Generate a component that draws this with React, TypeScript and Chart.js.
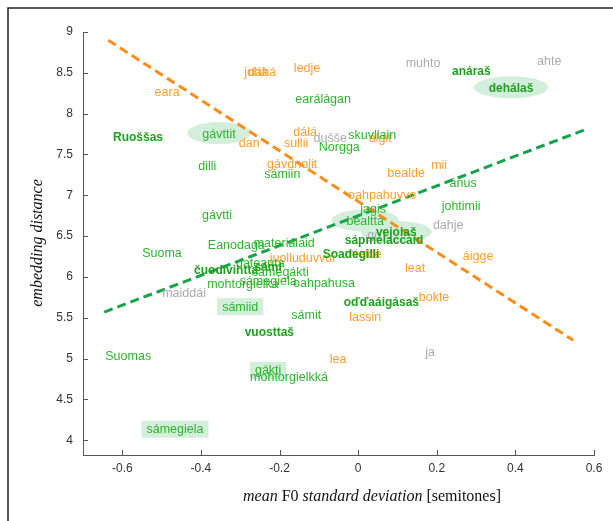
import React, { useEffect, useRef } from 'react';
import { Chart, registerables } from 'chart.js';

Chart.register(...registerables);

// ---- Data ----
const xTicks = [-0.6, -0.4, -0.2, 0, 0.2, 0.4, 0.6];
const xTickLabels = ['-0.6', '-0.4', '-0.2', '0', '0.2', '0.4', '0.6'];
const yTicks = [4, 4.5, 5, 5.5, 6, 6.5, 7, 7.5, 8, 8.5, 9];
const yTickLabels = ['4', '4.5', '5', '5.5', '6', '6.5', '7', '7.5', '8', '8.5', '9'];

const greenWords = [
  'anáraš', 'dehálaš', 'earálágan', 'Ruoššas', 'gávttit', 'skuvllain', 'Norgga', 'dilli', 'sámiin', 'ánus',
  'johtimii', 'jagis', 'bealtta', 'vejolaš', 'sápmelaccaid', 'Soadegilli', 'gávtti', 'Suoma', 'Eanodaga', 'materiálaid',
  'dateanta', 'čuodivihtta', 'sámi', 'sámegákti', 'mohtorgielka', 'sámegiela', 'oahpahusa', 'sámiid', 'sámit', 'oďďaáigásaš',
  'vuosttaš', 'Suomas', 'gákti', 'mohtorgielkká', 'sámegiela',
];
const greenX = [
  0.288, 0.389, -0.089, -0.560, -0.354, 0.036, -0.048, -0.384, -0.193, 0.267,
  0.262, 0.038, 0.018, 0.097, 0.066, -0.018, -0.359, -0.499, -0.310, -0.188,
  -0.249, -0.336, -0.229, -0.198, -0.293, -0.229, -0.087, -0.300, -0.132, 0.059,
  -0.226, -0.585, -0.229, -0.176, -0.466,
];
const greenY = [
  8.51, 8.31, 8.17, 7.71, 7.75, 7.73, 7.58, 7.35, 7.25, 7.14,
  6.86, 6.82, 6.68, 6.54, 6.44, 6.27, 6.75, 6.29, 6.39, 6.41,
  6.17, 6.08, 6.11, 6.06, 5.91, 5.94, 5.92, 5.63, 5.53, 5.68,
  5.32, 5.02, 4.85, 4.77, 4.13,
];
const greenBoldIdx = [0, 1, 3, 13, 14, 15, 21, 22, 29, 30];
const greenEllipseIdx = [1, 4, 12, 13];
const greenBoxIdx = [27, 32, 34];

const orangeWords = [
  'eara', 'johá', 'dáhá', 'ledje', 'dálá', 'sullii', 'gávdnojit', 'dan', 'álgit', 'bealde',
  'mii', 'oahpahuvvo', 'mielde', 'juolluduvvui', 'leat', 'áigge', 'bokte', 'lassin', 'lea',
];
const orangeX = [
  -0.486, -0.260, -0.244, -0.130, -0.135, -0.158, -0.168, -0.277, 0.056, 0.122,
  0.206, 0.061, 0.013, -0.142, 0.145, 0.305, 0.193, 0.018, -0.051,
];
const orangeY = [
  8.26, 8.50, 8.50, 8.55, 7.77, 7.63, 7.38, 7.63, 7.69, 7.27,
  7.36, 7.00, 6.28, 6.22, 6.10, 6.25, 5.75, 5.50, 4.99,
];

const grayWords = ['muhto', 'ahte', 'dušše', 'dahje', 'maiddái', 'ja', 'go'];
const grayX = [0.165, 0.486, -0.071, 0.229, -0.443, 0.183, 0.041];
const grayY = [8.61, 8.64, 7.69, 6.63, 5.80, 5.07, 6.51];

const orangeLineX = [-0.636, 0.547];
const orangeLineY = [8.90, 5.225];
const greenLineX = [-0.646, 0.575];
const greenLineY = [5.57, 7.80];

const xTitleParts = [
  { text: 'mean', italic: true },
  { text: ' F0 ', italic: false },
  { text: 'standard deviation', italic: true },
  { text: ' [semitones]', italic: false },
];
const yTitle = 'embedding distance';

// ---- Styles ----
const GREEN = '#2db42d';
const GREEN_BOLD = '#1ea01e';
const ORANGE = '#ff9e2c';
const GRAY = '#aaaaaa';
const HILITE = '#d3eedb';
const SANS = '"Liberation Sans", Arial, sans-serif';
const SERIF = '"Liberation Serif", "Times New Roman", serif';

const toPts = (xs: number[], ys: number[]) => xs.map((x, i) => ({ x, y: ys[i] }));

const labelPlugin = {
  id: 'wordLabels',
  beforeDatasetsDraw(chart: any) {
    const ctx = chart.ctx;
    chart.data.datasets.forEach((ds: any, di: number) => {
      if (!ds.words) return;
      const meta = chart.getDatasetMeta(di);
      ctx.save();
      ctx.fillStyle = HILITE;
      meta.data.forEach((el: any, i: number) => {
        const bold = ds.boldIdx && ds.boldIdx.includes(i);
        ctx.font = `${bold ? 'bold 12px' : '12.5px'} ${SANS}`;
        const w = ctx.measureText(ds.words[i]).width;
        if (ds.ellipseIdx && ds.ellipseIdx.includes(i)) {
          ctx.beginPath();
          ctx.ellipse(el.x, el.y - 1, w / 2 + 15, 11, 0, 0, Math.PI * 2);
          ctx.fill();
        }
        if (ds.boxIdx && ds.boxIdx.includes(i)) {
          ctx.fillRect(el.x - w / 2 - 5, el.y - 9, w + 10, 17);
        }
      });
      ctx.restore();
    });
  },
  afterDatasetsDraw(chart: any) {
    const ctx = chart.ctx;
    chart.data.datasets.forEach((ds: any, di: number) => {
      if (!ds.words) return;
      const meta = chart.getDatasetMeta(di);
      ctx.save();
      ctx.textAlign = 'center';
      ctx.textBaseline = 'middle';
      meta.data.forEach((el: any, i: number) => {
        const bold = ds.boldIdx && ds.boldIdx.includes(i);
        ctx.font = `${bold ? 'bold 12px' : '12.5px'} ${SANS}`;
        ctx.fillStyle = bold ? GREEN_BOLD : ds.textColor;
        ctx.fillText(ds.words[i], el.x, el.y);
      });
      ctx.restore();
    });
  },
  afterDraw(chart: any) {
    const ctx = chart.ctx;
    const { left, bottom } = chart.chartArea;
    const xs = chart.scales.x;
    const ys = chart.scales.y;
    ctx.save();
    // inner tick marks
    ctx.strokeStyle = '#555';
    ctx.lineWidth = 1;
    ctx.beginPath();
    xTicks.forEach((v) => {
      const px = Math.round(xs.getPixelForValue(v)) + 0.5;
      ctx.moveTo(px, bottom);
      ctx.lineTo(px, bottom - 5);
    });
    yTicks.forEach((v) => {
      const py = Math.round(ys.getPixelForValue(v)) + 0.5;
      ctx.moveTo(left, py);
      ctx.lineTo(left + 5, py);
    });
    ctx.stroke();
    // frame
    ctx.strokeStyle = '#222';
    ctx.lineWidth = 1.5;
    ctx.beginPath();
    ctx.moveTo(8, chart.height);
    ctx.lineTo(8, 8);
    ctx.lineTo(chart.width, 8);
    ctx.stroke();
    // x title
    ctx.fillStyle = '#111';
    ctx.textBaseline = 'middle';
    ctx.textAlign = 'left';
    const fonts = xTitleParts.map((p) => `${p.italic ? 'italic ' : ''}16px ${SERIF}`);
    const widths = xTitleParts.map((p, i) => {
      ctx.font = fonts[i];
      return ctx.measureText(p.text).width;
    });
    const total = widths.reduce((a, b) => a + b, 0);
    let cx = 372 - total / 2;
    xTitleParts.forEach((p, i) => {
      ctx.font = fonts[i];
      ctx.fillText(p.text, cx, 497);
      cx += widths[i];
    });
    // y title
    ctx.translate(38, 243);
    ctx.rotate(-Math.PI / 2);
    ctx.textAlign = 'center';
    ctx.font = `italic 16px ${SERIF}`;
    ctx.fillText(yTitle, 0, 0);
    ctx.restore();
  },
};

export default function App() {
  const ref = useRef<HTMLCanvasElement>(null);
  useEffect(() => {
    if (!ref.current) return;
    const chart = new Chart(ref.current, {
      type: 'scatter',
      data: {
        datasets: [
          {
            data: toPts(orangeLineX, orangeLineY),
            showLine: true,
            borderColor: '#ff8c1a',
            borderWidth: 3,
            borderDash: [9, 5],
            pointRadius: 0,
          } as any,
          {
            data: toPts(greenLineX, greenLineY),
            showLine: true,
            borderColor: '#16a34a',
            borderWidth: 3,
            borderDash: [9, 5],
            pointRadius: 0,
          } as any,
          {
            data: toPts(grayX, grayY),
            pointRadius: 0,
            words: grayWords,
            textColor: GRAY,
          } as any,
          {
            data: toPts(orangeX, orangeY),
            pointRadius: 0,
            words: orangeWords,
            textColor: ORANGE,
          } as any,
          {
            data: toPts(greenX, greenY),
            pointRadius: 0,
            words: greenWords,
            textColor: GREEN,
            boldIdx: greenBoldIdx,
            ellipseIdx: greenEllipseIdx,
            boxIdx: greenBoxIdx,
          } as any,
        ],
      },
      options: {
        animation: false,
        responsive: false,
        devicePixelRatio: 1,
        layout: { padding: { left: 0, right: 19, top: 32, bottom: 0 } },
        plugins: { legend: { display: false }, tooltip: { enabled: false } },
        scales: {
          x: {
            type: 'linear',
            min: -0.7,
            max: 0.6,
            grid: { display: false, drawTicks: false },
            border: { display: true, color: '#555', width: 1 },
            afterBuildTicks: (scale: any) => {
              scale.ticks = xTicks.map((v) => ({ value: v }));
            },
            afterFit: (scale: any) => {
              scale.height = 66;
            },
            ticks: {
              padding: 6,
              color: '#333',
              font: { family: SANS, size: 12 },
              callback: (v: any) => {
                const i = xTicks.findIndex((t) => Math.abs(t - v) < 1e-9);
                return i >= 0 ? xTickLabels[i] : '';
              },
            },
          },
          y: {
            type: 'linear',
            min: 3.82,
            max: 9,
            grid: { display: false, drawTicks: false },
            border: { display: true, color: '#555', width: 1 },
            afterBuildTicks: (scale: any) => {
              scale.ticks = yTicks.map((v) => ({ value: v }));
            },
            afterFit: (scale: any) => {
              scale.width = 83;
            },
            ticks: {
              padding: 10,
              color: '#333',
              font: { family: SANS, size: 12 },
              callback: (v: any) => {
                const i = yTicks.findIndex((t) => Math.abs(t - v) < 1e-9);
                return i >= 0 ? yTickLabels[i] : '';
              },
            },
          },
        },
      } as any,
      plugins: [labelPlugin],
    });
    return () => chart.destroy();
  }, []);
  return (
    <div style={{ position: 'absolute', left: 0, top: 0, width: 613, height: 521, background: '#fff' }}>
      <canvas ref={ref} width={613} height={521} style={{ display: 'block' }} />
    </div>
  );
}
